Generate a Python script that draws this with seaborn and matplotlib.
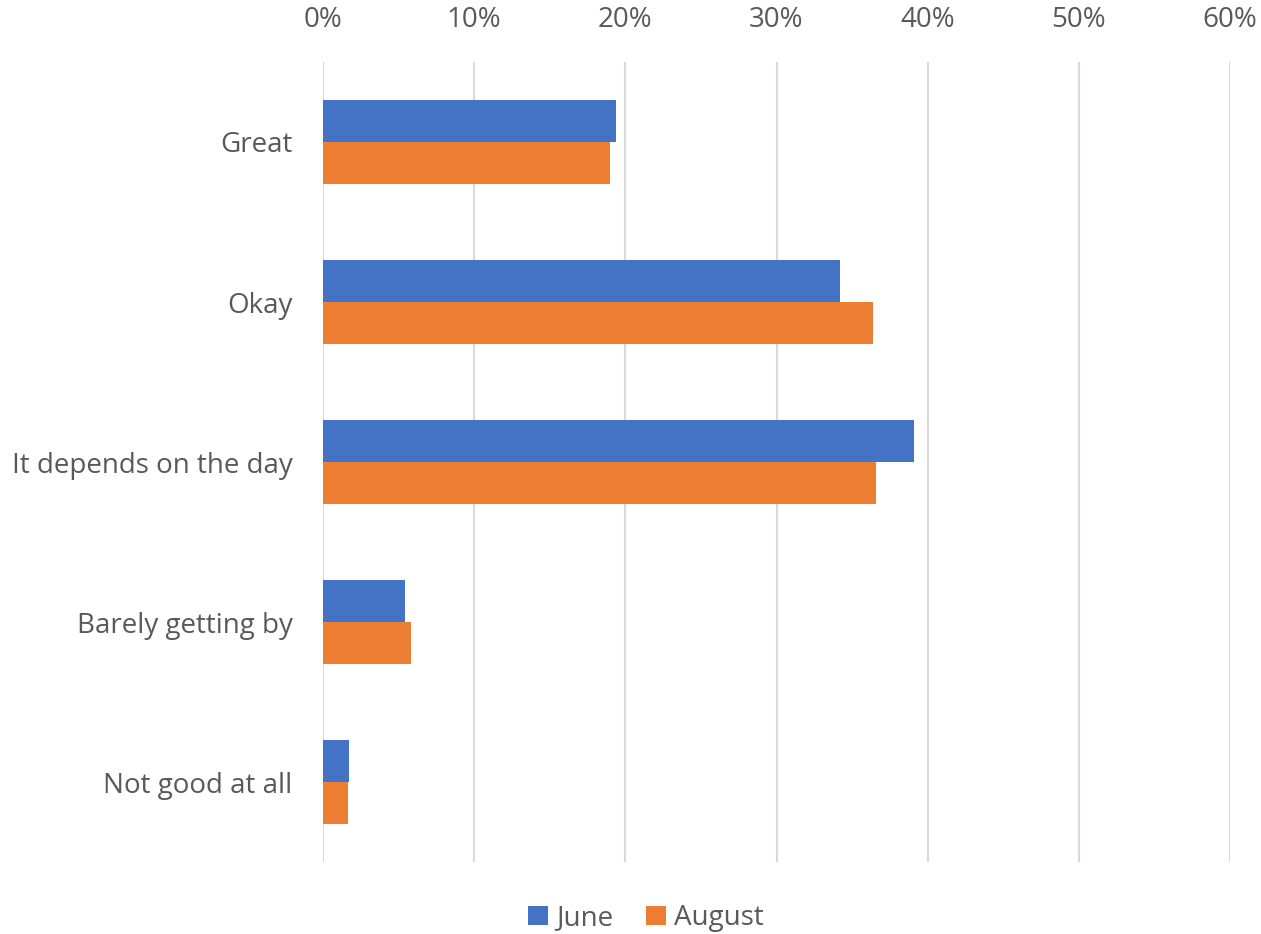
import matplotlib
matplotlib.use("Agg")
import matplotlib.pyplot as plt
import seaborn as sns
import pandas as pd
from matplotlib.ticker import FuncFormatter

categories = ["Great", "Okay", "It depends on the day", "Barely getting by", "Not good at all"]
june = [19.4, 34.2, 39.1, 5.4, 1.7]
august = [19.0, 36.4, 36.6, 5.8, 1.65]
series = ["June", "August"]
colors = ["#4472C4", "#ED7D31"]

df = pd.DataFrame({
    "category": categories * 2,
    "value": june + august,
    "series": ["June"] * len(categories) + ["August"] * len(categories),
})

sns.set_theme(style="white")
plt.rcParams['font.family'] = ['Open Sans', 'DejaVu Sans']

fig = plt.figure(figsize=(12.61, 9.34), dpi=100)
ax = fig.add_axes([323/1261, 1 - 862/934, (1230-323)/1261, (862-62)/934])

sns.barplot(data=df, x="value", y="category", hue="series", order=categories,
            hue_order=series, palette=colors, orient="h", width=0.525,
            saturation=1, linewidth=0, ax=ax, zorder=3)

ax.set_xlim(0, 60)
ax.set_ylim(4.5, -0.5)
ax.set_xticks(range(0, 61, 10))
ax.xaxis.set_major_formatter(FuncFormatter(lambda v, p: f"{int(v)}%"))
ax.xaxis.tick_top()
ax.tick_params(axis="x", length=0, pad=20, labelsize=20, colors="#595959")
ax.tick_params(axis="y", length=0, pad=22, labelsize=20, colors="#595959")
ax.grid(axis="x", color="#d9d9d9", linewidth=1.5, zorder=0)
ax.set_axisbelow(True)
for s in ax.spines.values():
    s.set_visible(False)
ax.set_xlabel("")
ax.set_ylabel("")

handles, labels = ax.get_legend_handles_labels()
ax.get_legend().remove()
leg = fig.legend(handles, labels, loc="center", bbox_to_anchor=(646/1261, 1 - 918/934),
                 ncol=2, frameon=False, fontsize=20, handlelength=0.7, handleheight=0.7,
                 handletextpad=0.3, columnspacing=1.2)
for t in leg.get_texts():
    t.set_color("#595959")

fig.savefig("out.png", dpi=100)
